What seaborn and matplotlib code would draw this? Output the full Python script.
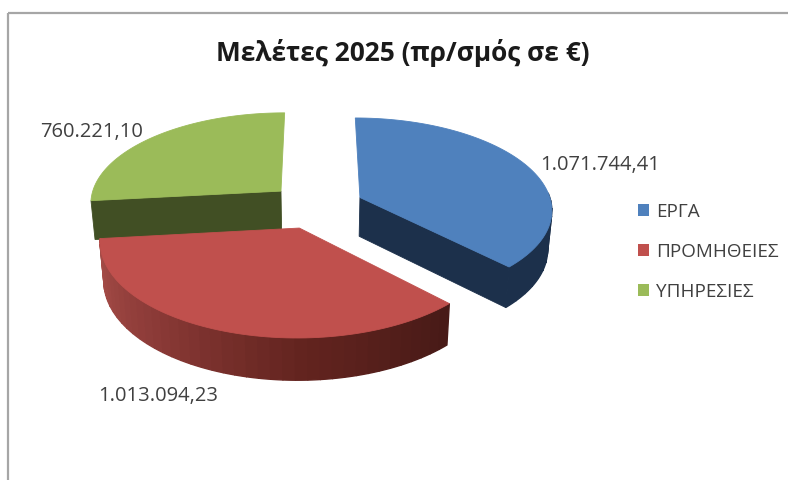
import numpy as np
import seaborn as sns
import matplotlib.pyplot as plt
from matplotlib.patches import Patch, Polygon, Rectangle

categories = ['ΕΡΓΑ', 'ΠΡΟΜΗΘΕΙΕΣ', 'ΥΠΗΡΕΣΙΕΣ']
values = [1071744.41, 1013094.23, 760221.10]
value_labels = ['1.071.744,41', '1.013.094,23', '760.221,10']
title = 'Μελέτες 2025 (πρ/σμός σε €)'

top_colors = ['#4f81bd', '#c0504d', '#9bbb59']

sns.set_theme(style='white')
plt.rcParams['font.family'] = ['Open Sans', 'DejaVu Sans']

# perspective of the 3d pie, all in pixels of the picture
cx, cy = 316, 206
rx, ry = 192, 91
persp = 0.12
depth = 39
explode = 0.25


def project(x, y, z=0.0):
    s = 1 / (1 + persp * y)
    px = cx + rx * x * s * (1 - 0.018 * z)
    py = cy - ry * y * s + depth * z * np.sqrt(s)
    return np.column_stack([px, py])


def slice_xy(a1, a2, mid, n=80):
    ang = np.radians(np.linspace(a1, a2, n))
    ox = explode * np.cos(np.radians(mid))
    oy = explode * np.sin(np.radians(mid))
    return ox + np.cos(ang), oy + np.sin(ang), ox, oy


# slices go clockwise from 12 o'clock
sweep = 360 * np.array(values) / np.sum(values)
starts = 90 - np.concatenate([[0], np.cumsum(sweep)[:-1]])
ends = starts - sweep
mids = (starts + ends) / 2

fig = plt.figure(figsize=(7.88, 4.8), dpi=100)
ax = fig.add_axes([0, 0, 1, 1])
ax.set_xlim(0, 788)
ax.set_ylim(480, 0)
ax.axis('off')

ax.add_patch(Rectangle((8, 13), 800, 480, fill=False, ec='#a6a6a6', lw=1.6))


def draw_top(i):
    x, y, ox, oy = slice_xy(starts[i], ends[i], mids[i])
    pts = np.vstack([project(x, y), project(np.array([ox]), np.array([oy]))])
    ax.add_patch(Polygon(pts, closed=True, fc=top_colors[i], ec=top_colors[i], lw=0.6))


def draw_radial_wall(i, ang, color):
    x, y, ox, oy = slice_xy(ang, ang, mids[i], n=1)
    xs = np.array([ox, x[0]])
    ys = np.array([oy, y[0]])
    pts = np.vstack([project(xs, ys), project(xs, ys, 1.0)[::-1]])
    ax.add_patch(Polygon(pts, closed=True, fc=color, ec=color, lw=0.6))


def draw_arc_wall(i, a1, a2, colors):
    edges = np.linspace(a1, a2, len(colors) + 1)
    for j, c in enumerate(colors):
        x, y, _, _ = slice_xy(edges[j], edges[j + 1], mids[i], n=6)
        pts = np.vstack([project(x, y), project(x, y, 1.0)[::-1]])
        ax.add_patch(Polygon(pts, closed=True, fc=c, ec=c, lw=1.0))


# green (back left), its front face is the side at the start angle
draw_radial_wall(2, starts[2], '#414f24')
draw_top(2)

# blue (right)
draw_radial_wall(0, ends[0], '#1c304b')
draw_arc_wall(0, 3, ends[0], ['#1c304b'] * 10)
draw_top(0)

# red (front), walls shade from left to right
red_wall = sns.blend_palette(['#a94f4a', '#8b3a37', '#63241f', '#481a17'], 40)
draw_arc_wall(1, ends[1], starts[1], red_wall)
draw_top(1)

ax.text(403, 53, title, ha='center', va='center', fontsize=18.9, fontweight='bold', color='#1a1a1a')

ax.text(600, 165, value_labels[0], ha='center', va='center', fontsize=14.5, color='#404040')
ax.text(158, 396, value_labels[1], ha='center', va='center', fontsize=14.5, color='#404040')
ax.text(92, 132, value_labels[2], ha='center', va='center', fontsize=14.5, color='#404040')

handles = [Patch(fc=c, ec='none') for c in top_colors]
leg = ax.legend(handles, categories, loc='upper left', bbox_to_anchor=(638, 203), bbox_transform=ax.transData,
                frameon=False, fontsize=13.6, handlelength=0.58, handleheight=0.58, handletextpad=0.36,
                labelspacing=1.16, borderpad=0, borderaxespad=0, labelcolor='#404040')

plt.savefig('out.png', dpi=100)
